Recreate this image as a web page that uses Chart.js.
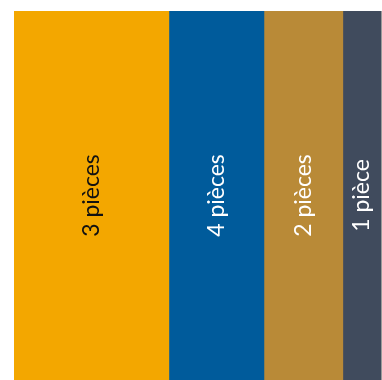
<!DOCTYPE html>
<html>
<head>
<meta charset="utf-8">
<script src="https://cdn.jsdelivr.net/npm/chart.js@4/dist/chart.umd.min.js"></script>
<style>
  html, body { margin: 0; padding: 0; background: #fff; }
  #wrap { width: 382px; height: 380px; }
</style>
</head>
<body>
<div id="wrap"><canvas id="c" width="382" height="380"></canvas></div>
<script>
// données
const categories = ['Logements'];
const seriesLabels = ['3 pièces', '4 pièces', '2 pièces', '1 pièce'];
const seriesValues = [42.2, 25.9, 21.5, 10.4];
const seriesColors = ['#F3A700', '#005B9B', '#B98A37', '#404B5D'];
const labelColors = ['#111111', '#ffffff', '#ffffff', '#ffffff'];

// étiquettes verticales au centre de chaque segment
const innerLabels = {
    id: 'innerLabels',
    afterDatasetsDraw(chart) {
        const ctx = chart.ctx;
        const area = chart.chartArea;
        chart.data.datasets.forEach((ds, i) => {
            const bar = chart.getDatasetMeta(i).data[0];
            const cx = (bar.x + bar.base) / 2;
            const cy = (area.top + area.bottom) / 2;
            ctx.save();
            ctx.translate(cx, cy);
            ctx.rotate(-Math.PI / 2);
            ctx.font = '23px Lato';
            ctx.fillStyle = labelColors[i];
            ctx.textAlign = 'center';
            ctx.textBaseline = 'middle';
            ctx.fillText(ds.label, 0, 0);
            ctx.restore();
        });
        // trait gris à droite
        ctx.save();
        ctx.strokeStyle = '#9a9a9a';
        ctx.lineWidth = 1;
        ctx.beginPath();
        ctx.moveTo(area.right + 0.5, area.top);
        ctx.lineTo(area.right + 0.5, area.bottom);
        ctx.stroke();
        ctx.restore();
    }
};

new Chart(document.getElementById('c'), {
    type: 'bar',
    data: {
        labels: categories,
        datasets: seriesLabels.map((label, i) => ({
            label: label,
            data: [seriesValues[i]],
            backgroundColor: seriesColors[i],
            borderWidth: 0,
            barPercentage: 1,
            categoryPercentage: 1
        }))
    },
    options: {
        indexAxis: 'y',
        responsive: false,
        animation: false,
        layout: { padding: { left: 14, top: 11, right: 1, bottom: 0 } },
        plugins: {
            legend: { display: false },
            tooltip: { enabled: false }
        },
        scales: {
            x: { stacked: true, min: 0, max: 100, display: false },
            y: { stacked: true, display: false }
        }
    },
    plugins: [innerLabels]
});
</script>
</body>
</html>
